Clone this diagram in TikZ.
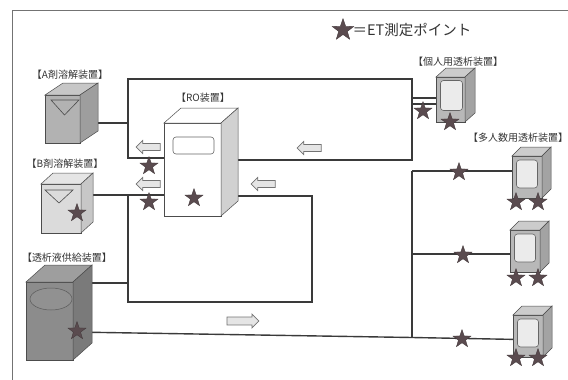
\documentclass[tikz,border=0pt]{standalone}
\usepackage{fontspec}
\setmainfont{Noto Sans CJK JP}
\usepackage{tikz}
\usetikzlibrary{calc, positioning, shapes, shapes.geometric, shapes.arrows, backgrounds}

\definecolor{starcolor}{HTML}{5A4B4F}
\definecolor{pipecolor}{HTML}{3A3A3A}
% top and side faces of a unit, hung on the front node
\newcommand{\boxfaces}[5]{%
	\filldraw[fill=#4, draw=black!70, line width=0.5pt] (#1.north west) -- ++(#2,-#3) -- ($(#1.north east)+(#2,-#3)$) -- (#1.north east) -- cycle;
	\filldraw[fill=#5, draw=black!70, line width=0.5pt] (#1.north east) -- ($(#1.north east)+(#2,-#3)$) -- ($(#1.south east)+(#2,-#3)$) -- (#1.south east) -- cycle;
}

\begin{document}
\begin{tikzpicture}[x=1pt, y=-1pt]
	\tikzstyle{unit}=[draw=black!70, line width=0.5pt, inner sep=0pt, outer sep=0pt]
	\tikzstyle{pipe}=[draw=pipecolor, line width=1.4pt]
	\tikzstyle{etstar}=[star, star points=5, star point ratio=2.5, fill=starcolor, draw=starcolor!70!black, line width=0.3pt, minimum size=19pt, inner sep=0pt]
	\tikzstyle{flow}=[single arrow, draw=black!55, fill=black!10, line width=0.7pt, minimum height=24pt, inner xsep=0pt, inner ysep=3.2pt, single arrow head extend=3pt]
	\tikzstyle{tag}=[font=\fontsize{10}{12}\selectfont, text=black!80, inner sep=0pt]
	\tikzstyle{screen}=[draw=black!60, rounded corners=3pt, fill=black!8, line width=0.6pt, inner sep=0pt]

	\useasboundingbox (0,0) rectangle (568,380);
	\draw[black!55, line width=0.8pt] (12,380) -- (12,10) -- (568,10);

	% legend
	\node (key) at (343,30) [etstar, minimum size=23pt]{};
	\node (keytext) [right=3pt of key, font=\fontsize{14.5}{16}\selectfont, text=black!80, inner sep=0pt] {＝ET測定ポイント};

	% front faces
	\node (A) at (62.5,119) [unit, fill=black!30, minimum width=35pt, minimum height=48pt]{};
	\node (B) at (61,208.5) [unit, fill=black!14, minimum width=40pt, minimum height=49pt]{};
	\node (S) at (49.5,321) [unit, fill=black!45, minimum width=47pt, minimum height=78pt]{};
	\node (RO) at (192.5,169.5) [unit, fill=white, minimum width=57pt, minimum height=93pt]{};
	\node (P) at (450.5,99.5) [unit, fill=black!28, minimum width=29pt, minimum height=45pt]{};
	\node (M1) at (527,177) [unit, fill=black!28, minimum width=30pt, minimum height=42pt]{};
	\node (M2) at (525,251) [unit, fill=black!28, minimum width=30pt, minimum height=42pt]{};
	\node (M3) at (528,336) [unit, fill=black!28, minimum width=30pt, minimum height=42pt]{};

	\boxfaces{A}{18}{12}{black!22}{black!38}
	\boxfaces{B}{12}{11}{black!10}{black!22}
	\boxfaces{S}{19}{17}{black!38}{black!52}
	\boxfaces{RO}{17}{15}{white}{black!18}
	\boxfaces{P}{10}{9}{black!20}{black!36}
	\foreach \m in {M1,M2,M3}
		\boxfaces{\m}{9}{9}{black!20}{black!36};

	% marks on the front faces
	\draw[black!70, line width=0.6pt] ($(A.north west)+(6,5)$) -- ($(A.north east)+(-1,5)$) -- ($(A.north)+(2,20)$) -- cycle;
	\draw[black!70, line width=0.6pt] ($(B.north west)+(4,6)$) -- ($(B.north east)+(-8,6)$) -- ($(B.north)+(-2,19)$) -- cycle;
	\node (S-win) at ($(S.center)+(1.5,-22)$) [ellipse, draw=black!65, fill=black!43, line width=0.5pt, minimum width=42pt, minimum height=22pt, inner sep=0pt]{};
	\node (RO-disp) at ($(RO.center)+(1,-24)$) [screen, fill=white, minimum width=41pt, minimum height=17pt]{};
	\node (P-scr) at ($(P.center)+(1,-4)$) [screen, minimum width=22pt, minimum height=30pt]{};
	\foreach \m in {M1,M2,M3}
		\node (\m-scr) at ($(\m.center)+(0,-3)$) [screen, minimum width=21pt, minimum height=28pt]{};

	% labels
	\node (A-tag) at (70,75) [tag]{【A剤溶解装置】};
	\node (B-tag) at (65,164) [tag]{【B剤溶解装置】};
	\node (S-tag) at (67,258) [tag]{【透析液供給装置】};
	\node (RO-tag) at (203,98) [tag]{【RO装置】};
	\node (P-tag) at (458,62) [tag]{【個人用透析装置】};
	\node (M-tag) at (518,138) [tag]{【多人数用透析装置】};

	% piping junctions
	\coordinate (a1) at (128,123);
	\coordinate (c1) at (128,79);
	\coordinate (c2) at (412,79);
	\coordinate (c3) at (412,160);
	\coordinate (c4) at (128,158);
	\coordinate (p1) at (412,98);
	\coordinate (p2) at (412,104);
	\coordinate (b1) at (128,195);
	\coordinate (d1) at (128,302);
	\coordinate (d2) at (312,302);
	\coordinate (d3) at (312,196);
	\coordinate (s1) at (128,283);
	\coordinate (s2) at (80,332);
	\coordinate (f1) at (412,171);
	\coordinate (f2) at (412,254);
	\coordinate (f3) at (412,337.5);
	\coordinate (m3) at (520,339.5);

	\begin{scope}[on background layer]
		% permeate loop to the personal unit
		\draw[pipe] (RO.west |- c4) -- (c4) -- (c1) -- (c2) -- (c3) -- (RO.east |- c3);
		\draw[pipe] (A.east |- a1) -- (a1);
		\draw[pipe] (p1) -- (P.west |- p1);
		\draw[pipe] (p2) -- (P.west |- p2);
		% permeate loop to the supply unit
		\draw[pipe] (B.east |- b1) -- (RO.west |- b1);
		\draw[pipe] (b1) -- (d1) -- (d2) -- (d3) -- (RO.east |- d3);
		\draw[pipe] (S.east |- s1) -- (s1);
		% dialysate line
		\draw[pipe] (S.east |- s2) -- (f3) -- (m3);
		\draw[pipe] (f1) -- (f3);
		\draw[pipe] (f1) -- (M1.west |- f1);
		\draw[pipe] (f2) -- (M2.west |- f2);
	\end{scope}

	% flow direction
	\node (w1) at (150,147) [flow, shape border rotate=180]{};
	\node (w2) at (150,184) [flow, shape border rotate=180]{};
	\node (w3) at (265,184) [flow, shape border rotate=180]{};
	\node (w4) at (311,148) [flow, shape border rotate=180]{};
	\node (w5) at (241,321) [flow, minimum height=32pt, inner ysep=3.6pt]{};

	% ET measuring points
	\node (et1) at (149,166) [etstar]{};
	\node (et2) at (149,202) [etstar]{};
	\node (et3) at (194,198) [etstar]{};
	\node (et4) at (77,213) [etstar]{};
	\node (et5) at (77,331) [etstar]{};
	\node (et6) at (423,111) [etstar]{};
	\node (et7) at (450,122) [etstar]{};
	\node (et8) at (459,172) [etstar]{};
	\node (et9) at (463,255) [etstar]{};
	\node (et10) at (462,339) [etstar]{};
	\foreach \m/\y in {M1/202, M2/278, M3/358} {
		\node (\m-et1) at (516,\y) [etstar]{};
		\node (\m-et2) at (538,\y) [etstar]{};
	}
\end{tikzpicture}
\end{document}
